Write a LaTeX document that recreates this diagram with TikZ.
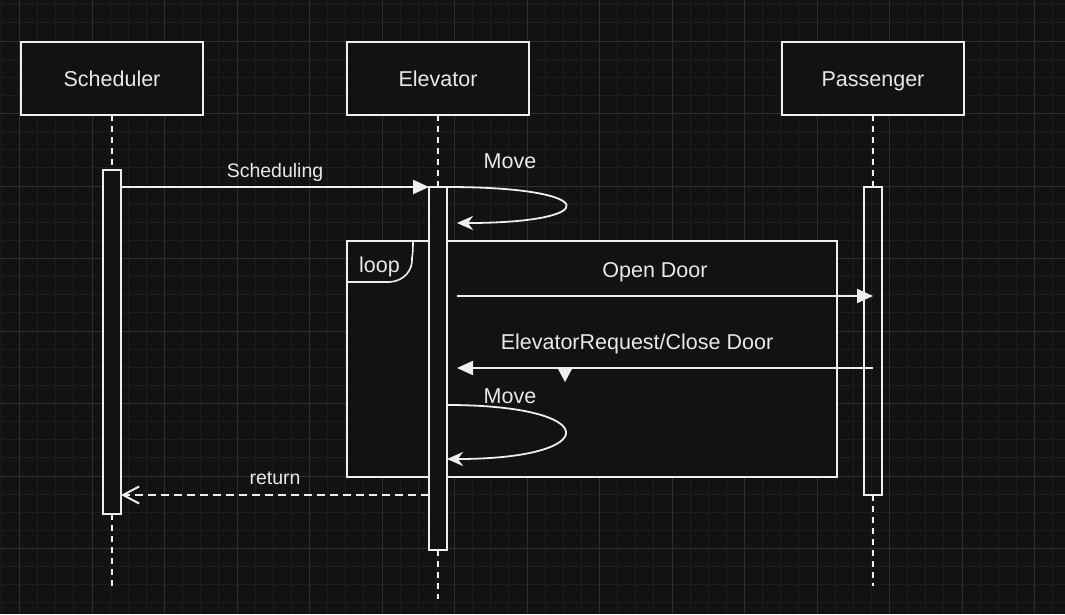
\documentclass[tikz,border=0pt]{standalone}
\usepackage{fontspec}
\setmainfont{Liberation Sans}
\usetikzlibrary{arrows.meta,positioning}

\definecolor{sqbg}{RGB}{18,18,18}
\definecolor{sqgridminor}{RGB}{28,28,28}
\definecolor{sqgridmajor}{RGB}{46,46,46}
\definecolor{sqline}{RGB}{238,238,238}
\definecolor{sqtext}{RGB}{232,232,232}

\begin{document}
\begin{tikzpicture}[
  x=1pt,
  y=-1pt,
  every node/.style={inner sep=0pt, outer sep=0pt},
  msglabel/.style={font=\fontsize{21.5}{24}\selectfont, text=sqtext, anchor=base},
  smalllabel/.style={font=\fontsize{19.5}{22}\selectfont, text=sqtext, anchor=base},
  actor/.style={draw=sqline, fill=sqbg, line width=2pt, minimum width=182pt, minimum height=73pt,
    font=\fontsize{21.5}{24}\selectfont, text=sqtext, text height=15.5pt, text depth=0pt},
  actbar/.style={draw=sqline, fill=sqbg, line width=2pt, minimum width=18pt, anchor=north},
  fragment/.style={draw=sqline, fill=sqbg, line width=2pt, anchor=north west},
  lifeline/.style={draw=sqline, line width=2pt, dash pattern=on 6pt off 5pt},
  msg/.style={draw=sqline, line width=2pt, -{Triangle[length=16pt, width=14pt]}},
  selfmsg/.style={draw=sqline, line width=1.8pt, -{Stealth[length=16pt, width=14pt, inset=5pt]}},
  retmsg/.style={draw=sqline, line width=2pt, dash pattern=on 8pt off 5pt, -{Straight Barb[length=16pt, width=17pt]}}
]

  \path[use as bounding box] (0,0) rectangle (1065,614);
  \fill[sqbg] (0,0) rectangle (1065,614);

  % Grid
  \foreach \i in {-1,...,57}
    \draw[sqgridminor, line width=1pt] ({19.5+18.125*\i},0) -- ({19.5+18.125*\i},614);
  \foreach \i in {-2,...,31}
    \draw[sqgridminor, line width=1pt] (0,{41+18.125*\i}) -- (1065,{41+18.125*\i});
  \foreach \i in {0,...,14}
    \draw[sqgridmajor, line width=1pt] ({19.5+72.5*\i},0) -- ({19.5+72.5*\i},614);
  \foreach \i in {0,...,7}
    \draw[sqgridmajor, line width=1pt] (0,{41+72.5*\i}) -- (1065,{41+72.5*\i});

  % Participants
  \node[actor] (sched) at (112,78.5) {Scheduler};
  \node[actor] (elev) at (438,78.5) {Elevator};
  \node[actor] (pass) at (873,78.5) {Passenger};

  % Loop fragment
  \node[fragment, minimum width=490pt, minimum height=236pt] (loopframe) at (347,241) {};
  \draw[sqline, line width=1.6pt] (loopframe.north west) ++(0,41) -- ++(43,0)
    .. controls ++(14,-1) and ++(1,12) .. ++(22,-24) .. controls ++(1,-5) and ++(0,4) .. (413,241);
  \node[msglabel] (looplbl) at (379.5,272) {loop};

  % Activation bars
  \node[actbar, minimum height=344pt] (schedbar) at (112,170) {};
  \node[actbar, minimum height=363pt] (elevbar) at (438,187) {};
  \node[actbar, minimum height=308pt, fill=none] (passbar) at (873,187) {};

  % Lifelines
  \draw[lifeline] (sched.south) -- (schedbar.north);
  \draw[lifeline] (schedbar.south) -- ++(0,73);
  \draw[lifeline] (elev.south) -- (elevbar.north);
  \draw[lifeline] (elevbar.south) -- ++(0,49);
  \draw[lifeline] (pass.south) -- (passbar.north);
  \draw[lifeline] (passbar.south) -- ++(0,91);

  % Messages
  \coordinate (schedout) at (schedbar.north east |- elevbar.north);
  \draw[msg] (schedout) -- (elevbar.north west);
  \node[smalllabel] (schedlbl) at (275,177) {Scheduling};

  \coordinate (move1end) at (457,223);
  \draw[selfmsg] (elevbar.north east) .. controls (603,187) and (603,223) .. (move1end);
  \node[msglabel] (move1lbl) at (510,168) {Move};

  \coordinate (doorout) at (457,296);
  \coordinate (doorin) at (passbar.north |- doorout);
  \draw[msg] (doorout) -- (doorin);
  \node[msglabel] (doorlbl) at (655,277) {Open Door};

  \coordinate (reqout) at (873,368);
  \coordinate (reqin) at (457,368);
  \draw[msg] (reqout) -- (reqin);
  \fill[sqline] (557,367) -- (573,367) -- (565,382) -- cycle;
  \node[msglabel] (reqlbl) at (637,349) {ElevatorRequest/Close Door};

  \coordinate (move2out) at (elevbar.east |- 0,405);
  \coordinate (move2in) at (elevbar.east |- 0,459);
  \draw[selfmsg] (move2out) .. controls (604,405) and (604,459) .. (move2in);
  \node[msglabel] (move2lbl) at (510,403) {Move};

  \coordinate (retout) at (elevbar.west |- 0,495);
  \coordinate (retin) at (schedbar.east |- 0,495);
  \draw[retmsg] (retout) -- (retin);
  \node[smalllabel] (retlbl) at (275,484) {return};

\end{tikzpicture}
\end{document}
